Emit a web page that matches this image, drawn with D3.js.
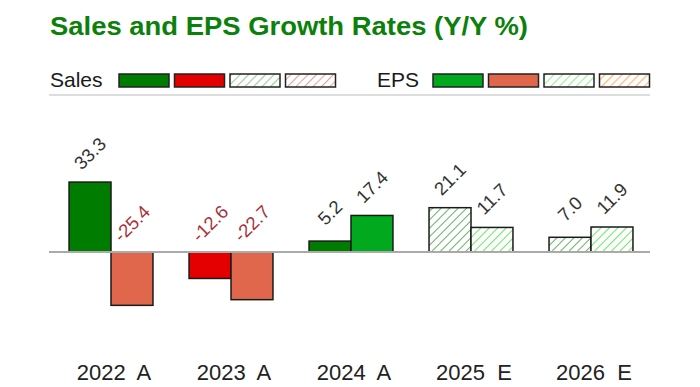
<!DOCTYPE html>
<html>
<head>
<meta charset="utf-8">
<script src="https://cdn.jsdelivr.net/npm/d3@7.9.0/dist/d3.min.js"></script>
<style>
  body { margin: 0; background: #fff; }
  svg { display: block; font-family: "Liberation Sans", Arial, sans-serif; }
</style>
</head>
<body>
<svg id="chart" width="700" height="387"></svg>
<script>
// chart data
const categories = ["2022  A", "2023  A", "2024  A", "2025  E", "2026  E"];
const salesGrowth = [33.3, -12.6, 5.2, 21.1, 7.0];
const epsGrowth = [-25.4, -22.7, 17.4, 11.7, 11.9];
const isEstimate = [false, false, false, true, true];
const seriesKeys = ["Sales", "EPS"];

const svg = d3.select("#chart");

// fills: [positive actual, negative actual, positive estimate, negative estimate]
const fills = {
    Sales: ["#007d00", "#e50000", "url(#hatchSalesPos)", "url(#hatchSalesNeg)"],
    EPS: ["#00a91e", "#e0674c", "url(#hatchEpsPos)", "url(#hatchEpsNeg)"]
};

// hatch patterns
const defs = svg.append("defs");
function hatch(id, color, sw) {
    const p = defs.append("pattern")
        .attr("id", id)
        .attr("patternUnits", "userSpaceOnUse")
        .attr("width", 6).attr("height", 6)
        .attr("patternTransform", "rotate(45)");
    p.append("rect").attr("width", 6).attr("height", 6).attr("fill", "#fff");
    p.append("line")
        .attr("x1", 0).attr("y1", 0).attr("x2", 0).attr("y2", 6)
        .attr("stroke", color).attr("stroke-width", sw);
}
hatch("hatchSalesPos", "#3f9e3f", 1.6);
hatch("hatchSalesNeg", "#d48a8a", 1.6);
hatch("hatchEpsPos", "#3ee63e", 1.6);
hatch("hatchEpsNeg", "#f5b27e", 1.6);
hatch("legSalesPos", "#99cc99", 2.2);
hatch("legSalesNeg", "#e2a4a4", 2.2);
hatch("legEpsPos", "#99ee99", 2.2);
hatch("legEpsNeg", "#fbbd80", 2.6);

// title
svg.append("text")
    .attr("x", 50).attr("y", 35)
    .attr("font-size", 25)
    .attr("font-weight", "bold")
    .attr("fill", "#0b800b")
    .attr("textLength", 478)
    .attr("lengthAdjust", "spacingAndGlyphs")
    .text("Sales and EPS Growth Rates (Y/Y %)");

// legend
const legendFills = {
    Sales: ["#007d00", "#e50000", "url(#legSalesPos)", "url(#legSalesNeg)"],
    EPS: ["#00a91e", "#e0674c", "url(#legEpsPos)", "url(#legEpsNeg)"]
};
const legendPos = { Sales: { tx: 50, sx: 119 }, EPS: { tx: 377, sx: 433 } };
seriesKeys.forEach(k => {
    const lp = legendPos[k];
    svg.append("text")
        .attr("x", lp.tx).attr("y", 87)
        .attr("font-size", 21)
        .attr("fill", "#1a1a1a")
        .text(k);
    svg.selectAll(".leg-" + k)
        .data(legendFills[k])
        .enter()
        .append("rect")
        .attr("class", "leg-" + k)
        .attr("x", (d, i) => lp.sx + i * 55.5)
        .attr("y", 74)
        .attr("width", 50)
        .attr("height", 13)
        .attr("fill", d => d)
        .attr("stroke", "#222")
        .attr("stroke-width", 1.5);
});

// separator under legend
svg.append("line")
    .attr("x1", 49).attr("x2", 650)
    .attr("y1", 95).attr("y2", 95)
    .attr("stroke", "#ddd").attr("stroke-width", 2);

// scales
const x0 = d3.scaleBand().domain(categories).range([51, 651]).padding(0);
const x1 = d3.scaleBand().domain(seriesKeys).range([0, x0.bandwidth()])
    .paddingInner(0).paddingOuter(0.43);
const y = d3.scaleLinear().domain([-30, 40]).range([315, 168]);

const rows = categories.map((c, i) => ({
    cat: c,
    est: isEstimate[i],
    vals: [
        { key: "Sales", v: salesGrowth[i] },
        { key: "EPS", v: epsGrowth[i] }
    ]
}));

const groups = svg.selectAll(".grp")
    .data(rows)
    .enter()
    .append("g")
    .attr("class", "grp")
    .attr("transform", d => `translate(${x0(d.cat)},0)`);

groups.selectAll("rect")
    .data(d => d.vals.map(v => ({ ...v, est: d.est })))
    .enter()
    .append("rect")
    .attr("x", d => x1(d.key))
    .attr("y", d => y(Math.max(0, d.v)))
    .attr("width", x1.bandwidth())
    .attr("height", d => Math.abs(y(d.v) - y(0)))
    .attr("fill", d => fills[d.key][(d.est ? 2 : 0) + (d.v < 0 ? 1 : 0)])
    .attr("stroke", "#1a1a1a")
    .attr("stroke-width", 1.5);

// zero line
svg.append("line")
    .attr("x1", 49).attr("x2", 650)
    .attr("y1", y(0)).attr("y2", y(0))
    .attr("stroke", "#aaa").attr("stroke-width", 2);

// value labels, rotated and centred above the bar end
groups.selectAll(".val")
    .data(d => d.vals)
    .enter()
    .append("text")
    .attr("class", "val")
    .attr("transform", d => {
        const cx = x1(d.key) + x1.bandwidth() / 2 + 4.5;
        const cy = y(Math.max(0, d.v)) - 24;
        return `translate(${cx},${cy}) rotate(-45)`;
    })
    .attr("text-anchor", "middle")
    .attr("font-size", 18.5)
    .attr("fill", d => d.v < 0 ? "#a8303a" : "#333")
    .text(d => d.v.toFixed(1));

// category axis labels
const xAxis = svg.append("g")
    .attr("transform", "translate(3,0)");
xAxis.selectAll("text")
    .data(categories)
    .enter()
    .append("text")
    .attr("x", d => x0(d) + x0.bandwidth() / 2)
    .attr("y", 380)
    .attr("text-anchor", "middle")
    .attr("font-size", 22)
    .attr("fill", "#222")
    .style("white-space", "pre")
    .text(d => d);
</script>
</body>
</html>
